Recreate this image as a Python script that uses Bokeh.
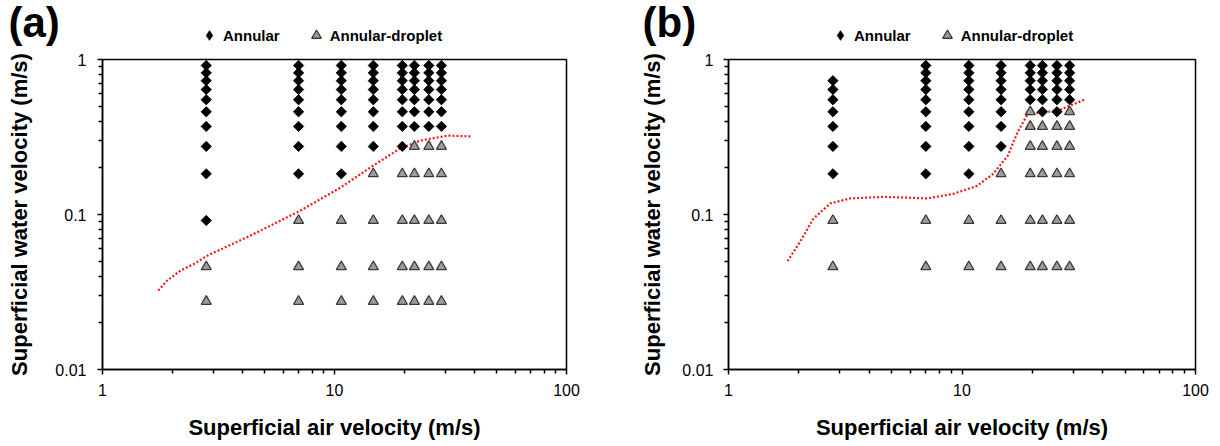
import math
from bokeh.plotting import figure
from bokeh.models import FixedTicker, Legend, LegendItem, Label
from bokeh.layouts import row, column
from bokeh.embed import file_html
from bokeh.resources import INLINE

# ---------------- data ----------------
AIR = [2.8, 7.0, 10.7, 14.7, 19.6, 22.1, 25.5, 28.9]
WATER = [0.915, 0.82, 0.73, 0.64, 0.55, 0.46, 0.37, 0.275, 0.183, 0.0915, 0.046, 0.0275]

# one string per AIR column, one character per WATER level
# A = Annular, D = Annular-droplet, . = no point
REGIME_A = ["AAAAAAAAAADD", "AAAAAAAAADDD", "AAAAAAAAADDD", "AAAAAAAADDDD",
            "AAAAAAAADDDD", "AAAAAAADDDDD", "AAAAAAADDDDD", "AAAAAAADDDDD"]
REGIME_B = ["..AAAAAAADD.", "AAAAAAAAADD.", "AAAAAAAAADD.", "AAAAAAAADDD.",
            "AAAAADDDDDD.", "AAAAAADDDDD.", "AAAAAADDDDD.", "AAAAADDDDDD."]

CURVE_A_X = [1.74, 1.90, 2.17, 2.48, 2.84, 4.35, 7.14, 10.6, 14.7, 19.2, 23.5, 30.7, 38.6]
CURVE_A_Y = [0.0323, 0.0375, 0.0435, 0.048, 0.0544, 0.0732, 0.106, 0.149, 0.207, 0.267, 0.30, 0.323, 0.319]

CURVE_B_X = [1.79, 2.03, 2.31, 2.73, 3.33, 4.61, 7.11, 9.2, 11.6, 13.6, 15.7, 17.3, 19.1, 22.3, 25.6, 33.8]
CURVE_B_Y = [0.050, 0.067, 0.094, 0.118, 0.127, 0.130, 0.127, 0.136, 0.153, 0.183, 0.239, 0.34, 0.444, 0.457, 0.466, 0.554]

X_TICKS = [1, 10, 100]
X_TICK_LABELS = ["1", "10", "100"]
X_MINOR = [2, 3, 4, 5, 6, 7, 8, 9, 20, 30, 40, 50, 60, 70, 80, 90]
Y_TICKS = [0.01, 0.1, 1]
Y_TICK_LABELS = ["0.01", "0.1", "1"]
Y_MINOR = [0.02, 0.03, 0.04, 0.05, 0.06, 0.07, 0.08, 0.09,
           0.2, 0.3, 0.4, 0.5, 0.6, 0.7, 0.8, 0.9]

SERIES = ["Annular", "Annular-droplet"]
PANELS = ["(a)", "(b)"]
X_TITLE = "Superficial air velocity (m/s)"
Y_TITLE = "Superficial water velocity (m/s)"

FONT = "Liberation Sans"
HEADER_H = 48

ANNULAR_STYLE = dict(marker="square", angle=math.pi / 4, size=7.3,
                     fill_color="black", line_color="black", line_width=0.8)
DROPLET_STYLE = dict(marker="triangle", size=10,
                     fill_color="#9c9c9c", line_color="#3a3a3a", line_width=1.3)
# the legend draws markers unrotated, so its proxy uses the diamond marker
ANNULAR_KEY_STYLE = dict(marker="diamond", size=10,
                         fill_color="black", line_color="black", line_width=0.8)


def split(regime):
    ax, ay, dx, dy = [], [], [], []
    for x, codes in zip(AIR, regime):
        for y, c in zip(WATER, codes):
            if c == "A":
                ax.append(x); ay.append(y)
            elif c == "D":
                dx.append(x); dy.append(y)
    return ax, ay, dx, dy


def header(tag, regime, width, legend_x, tag_x):
    # strip above each panel: panel tag + legend (its own frame, so nothing is clipped)
    h = figure(width=width, height=HEADER_H, x_range=(0, 1), y_range=(0, 1),
               min_border=0, x_axis_location=None, y_axis_location=None,
               output_backend="svg", toolbar_location=None)
    h.xgrid.visible = False
    h.ygrid.visible = False
    h.outline_line_color = None
    h.background_fill_color = "white"
    h.border_fill_color = "white"
    ax, ay, dx, dy = split(regime)
    # legend proxies: one real point of each series, lying outside this strip's range
    r_a = h.scatter(ax[:1], ay[:1], **ANNULAR_KEY_STYLE)
    r_d = h.scatter(dx[:1], dy[:1], **DROPLET_STYLE)
    leg = Legend(items=[LegendItem(label=SERIES[0], renderers=[r_a]),
                        LegendItem(label=SERIES[1], renderers=[r_d])],
                 orientation="horizontal", location=(legend_x, 1),
                 border_line_alpha=0, background_fill_alpha=0,
                 padding=0, margin=0, spacing=24, label_standoff=2,
                 glyph_width=24, glyph_height=24, label_height=24,
                 label_text_font=FONT, label_text_font_style="bold",
                 label_text_font_size="15px", label_text_color="black")
    h.add_layout(leg)
    h.add_layout(Label(x=tag_x, y=26, x_units="screen", y_units="screen", text=tag,
                       text_font=FONT, text_font_style="bold", text_font_size="42px",
                       text_color="black", text_align="left", text_baseline="middle"))
    return h


def panel(regime, cx, cy, fw, bl, br, ylab_standoff, ytick_standoff):
    p = figure(x_axis_type="log", y_axis_type="log", x_range=(1, 100), y_range=(0.01, 1),
               frame_width=fw, frame_height=310,
               min_border_left=bl, min_border_right=br, min_border_top=11, min_border_bottom=77,
               output_backend="svg", toolbar_location=None)
    p.xgrid.visible = False
    p.ygrid.visible = False
    p.outline_line_color = "black"
    p.outline_line_width = 1.5
    p.outline_line_alpha = 1
    p.background_fill_color = "white"
    p.border_fill_color = "white"

    p.xaxis.ticker = FixedTicker(ticks=X_TICKS, minor_ticks=X_MINOR)
    p.xaxis.major_label_overrides = dict(zip(X_TICKS, X_TICK_LABELS))
    p.yaxis.ticker = FixedTicker(ticks=Y_TICKS, minor_ticks=Y_MINOR)
    p.yaxis.major_label_overrides = dict(zip(Y_TICKS, Y_TICK_LABELS))
    p.xaxis.axis_label = X_TITLE
    p.yaxis.axis_label = Y_TITLE
    for axis in (p.xaxis, p.yaxis):
        axis.axis_line_width = 1.5
        axis.axis_line_color = "black"
        axis.major_tick_line_width = 1.5
        axis.minor_tick_line_width = 1.5
        axis.major_tick_line_color = "black"
        axis.minor_tick_line_color = "black"
        axis.major_tick_in = 0
        axis.major_tick_out = 5
        axis.minor_tick_in = 0
        axis.minor_tick_out = 4
        axis.major_label_text_font = FONT
        axis.major_label_text_font_size = "16px"
        axis.major_label_text_color = "black"
        axis.axis_label_text_font = FONT
        axis.axis_label_text_font_style = "bold"
        axis.axis_label_text_font_size = "22px"
        axis.axis_label_text_color = "black"
    p.xaxis.major_label_standoff = 9
    p.xaxis.axis_label_standoff = 16
    p.yaxis.major_label_standoff = ytick_standoff
    p.yaxis.axis_label_standoff = ylab_standoff

    ax, ay, dx, dy = split(regime)
    p.line(cx, cy, line_color="#f01818", line_width=2.2, line_dash="2 2")
    p.scatter(ax, ay, **ANNULAR_STYLE)
    p.scatter(dx, dy, **DROPLET_STYLE)
    return p


W_A = 102 + 464 + 64
W_B = 98 + 467 + 20

ha = header(PANELS[0], REGIME_A, W_A, legend_x=197, tag_x=8)
hb = header(PANELS[1], REGIME_B, W_B, legend_x=198, tag_x=12)
pa = panel(REGIME_A, CURVE_A_X, CURVE_A_Y, fw=464, bl=102, br=64,
           ylab_standoff=20, ytick_standoff=11)
pb = panel(REGIME_B, CURVE_B_X, CURVE_B_Y, fw=467, bl=98, br=20,
           ylab_standoff=14, ytick_standoff=10)

layout = column(row(ha, hb, spacing=0), row(pa, pb, spacing=0), spacing=0)
open("out.html", "w").write(file_html(layout, INLINE))
